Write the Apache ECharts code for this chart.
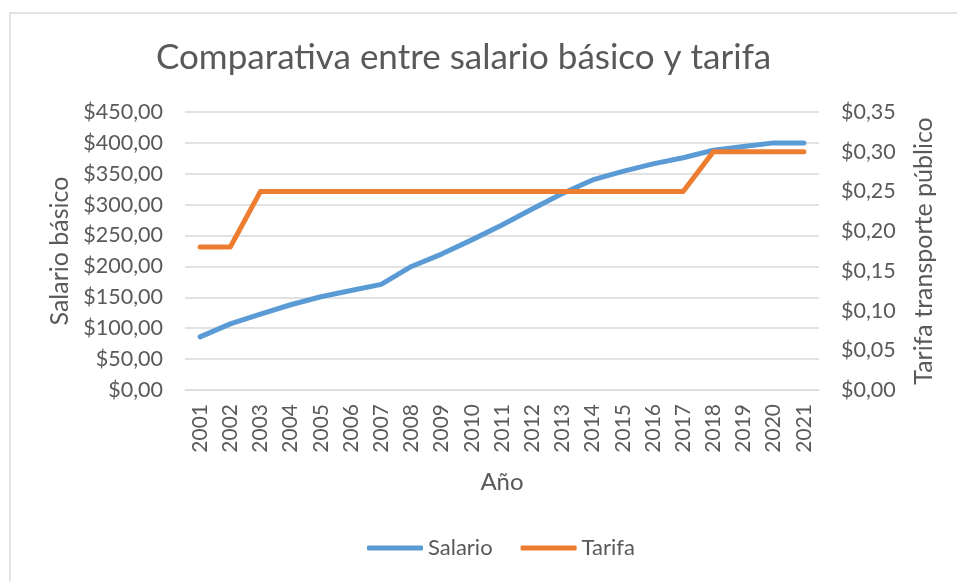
<!DOCTYPE html>
<html>
<head>
	<meta charset="utf-8">
	<title>Comparativa entre salario básico y tarifa</title>
	<script src="https://cdn.jsdelivr.net/npm/echarts@6/dist/echarts.min.js"></script>
	<style>
		html, body { margin: 0; padding: 0; background: #fff; }
		#main { width: 957px; height: 581px; }
	</style>
</head>
<body>
<div id="main"></div>
<script type="text/javascript">
// 数据
var anios = ['2001', '2002', '2003', '2004', '2005', '2006', '2007', '2008', '2009', '2010', '2011',
	'2012', '2013', '2014', '2015', '2016', '2017', '2018', '2019', '2020', '2021'];
var salario = [86, 107, 123, 138, 151, 161, 171, 200, 220, 243, 267,
	293, 318, 340, 354, 366, 376, 388, 394, 400, 400];
var tarifa = [0.18, 0.18, 0.25, 0.25, 0.25, 0.25, 0.25, 0.25, 0.25, 0.25, 0.25,
	0.25, 0.25, 0.25, 0.25, 0.25, 0.25, 0.30, 0.30, 0.30, 0.30];

var gris = '#595959';
var fuente = 'Lato';

function dinero(v) {
	return '$' + v.toFixed(2).replace('.', ',');
}

var myChart = echarts.init(document.getElementById('main'));

var option = {
	backgroundColor: '#fff',
	textStyle: { fontFamily: fuente, color: gris },
	// 边框
	graphic: [{
		type: 'rect',
		shape: { x: 10, y: 13, width: 1200, height: 1200 },
		style: { fill: 'none', stroke: '#d9d9d9', lineWidth: 1.5 },
		silent: true
	}],
	title: {
		text: 'Comparativa entre salario básico y tarifa',
		left: 151,
		top: 35,
		textStyle: { fontFamily: fuente, fontSize: 35, fontWeight: 'normal', color: gris }
	},
	legend: {
		bottom: 17,
		left: 362,
		icon: 'roundRect',
		itemWidth: 56,
		itemHeight: 5,
		itemGap: 28,
		textStyle: { fontFamily: fuente, fontSize: 22, color: gris },
		data: ['Salario', 'Tarifa']
	},
	grid: { left: 185, right: 138, top: 112, bottom: 191 },
	xAxis: {
		type: 'category',
		data: anios,
		name: 'Año',
		nameLocation: 'middle',
		nameGap: 80,
		nameTextStyle: { fontFamily: fuente, fontSize: 24, color: gris },
		axisLine: { lineStyle: { color: '#d9d9d9' } },
		axisTick: { show: false },
		axisLabel: { rotate: 90, margin: 14, fontFamily: fuente, fontSize: 21, color: gris }
	},
	yAxis: [{
		type: 'value',
		min: 0,
		max: 450,
		interval: 50,
		name: 'Salario básico',
		nameLocation: 'middle',
		nameGap: 113,
		nameTextStyle: { fontFamily: fuente, fontSize: 25, color: gris },
		axisLine: { show: false },
		axisTick: { show: false },
		splitLine: { lineStyle: { color: '#d9d9d9', width: 1.5 } },
		axisLabel: { margin: 22, fontFamily: fuente, fontSize: 21.5, color: gris, formatter: dinero }
	}, {
		type: 'value',
		min: 0,
		max: 0.35,
		interval: 0.05,
		name: 'Tarifa transporte público',
		nameLocation: 'middle',
		nameGap: 92,
		nameRotate: 90,
		nameTextStyle: { fontFamily: fuente, fontSize: 25, color: gris },
		axisLine: { show: false },
		axisTick: { show: false },
		splitLine: { show: false },
		axisLabel: { margin: 22, fontFamily: fuente, fontSize: 21.5, color: gris, formatter: dinero }
	}],
	series: [{
		name: 'Salario',
		type: 'line',
		data: salario,
		yAxisIndex: 0,
		showSymbol: false,
		color: '#5b9bd5',
		lineStyle: { width: 5, cap: 'round', join: 'round' }
	}, {
		name: 'Tarifa',
		type: 'line',
		data: tarifa,
		yAxisIndex: 1,
		showSymbol: false,
		color: '#ed7d31',
		lineStyle: { width: 5, cap: 'round', join: 'round' }
	}]
};

myChart.setOption(option);
</script>
</body>
</html>
